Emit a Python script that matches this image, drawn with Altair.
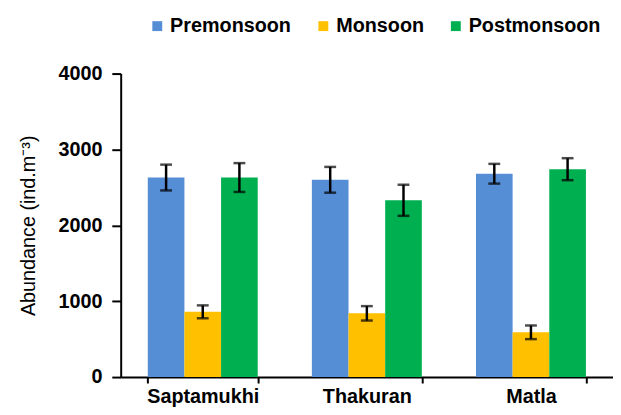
import altair as alt
import pandas as pd

sites = ["Saptamukhi", "Thakuran", "Matla"]
seasons = ["Premonsoon", "Monsoon", "Postmonsoon"]
colors = ["#558ED5", "#FFC000", "#00B050"]

premonsoon = [2630, 2600, 2680]
monsoon = [860, 840, 590]
postmonsoon = [2630, 2330, 2740]

premonsoon_err = [170, 170, 130]
monsoon_err = [85, 95, 90]
postmonsoon_err = [190, 205, 145]

rows = []
for means, errs, season in [
    (premonsoon, premonsoon_err, "Premonsoon"),
    (monsoon, monsoon_err, "Monsoon"),
    (postmonsoon, postmonsoon_err, "Postmonsoon"),
]:
    for site, m, e in zip(sites, means, errs):
        rows.append({"site": site, "season": season, "mean": m, "lo": m - e, "hi": m + e})
df = pd.DataFrame(rows)

ytitle = "Abundance (ind.m⁻³)"
yscale = alt.Scale(domain=[0, 4000], nice=False)

base = alt.Chart(df).encode(
    x=alt.X(
        "site:N",
        sort=sites,
        title=None,
        scale=alt.Scale(paddingInner=0.33, paddingOuter=0.165),
        axis=alt.Axis(
            labelAngle=0,
            labelPadding=4,
            tickSize=6,
            tickBand="extent",
        ),
    ),
    xOffset=alt.XOffset("season:N", sort=seasons, scale=alt.Scale(paddingInner=0, paddingOuter=0)),
)

yaxis = alt.Axis(
    values=[0, 1000, 2000, 3000, 4000],
    format="d",
    grid=False,
    labelPadding=10,
    tickSize=9,
    titlePadding=20,
)

bars = base.mark_bar().encode(
    y=alt.Y("mean:Q", title=ytitle, scale=yscale, axis=yaxis),
    color=alt.Color(
        "season:N",
        sort=seasons,
        scale=alt.Scale(domain=seasons, range=colors),
        legend=alt.Legend(
            title=None,
            orient="none",
            legendX=27,
            legendY=-58,
            direction="horizontal",
            symbolType="square",
            symbolSize=100,
            symbolStrokeWidth=0,
            labelFontSize=20,
            labelFontWeight="bold",
            labelColor="black",
            labelOffset=3,
            columnPadding=22,
        ),
    ),
)

rules = base.mark_rule(color="black", strokeWidth=2.5).encode(
    y=alt.Y("lo:Q", title=ytitle, scale=yscale, axis=yaxis),
    y2="hi:Q",
)
cap_top = base.mark_tick(color="black", thickness=2.5, size=12, orient="horizontal").encode(
    y=alt.Y("hi:Q", title=ytitle, scale=yscale, axis=yaxis),
)
cap_bot = base.mark_tick(color="black", thickness=2.5, size=12, orient="horizontal").encode(
    y=alt.Y("lo:Q", title=ytitle, scale=yscale, axis=yaxis),
)

chart = (
    alt.layer(bars, rules, cap_top, cap_bot)
    .properties(
        width=498,
        height=307,
        autosize="none",
        padding={"left": 114, "top": 64, "right": 0, "bottom": 34},
    )
    .configure(font="Liberation Sans")
    .configure_view(stroke=None)
    .configure_axis(
        labelFontSize=20,
        labelFontWeight="bold",
        labelColor="black",
        domainColor="black",
        domainWidth=2,
        tickColor="black",
        tickWidth=2,
        titleFontSize=20,
        titleFontWeight="normal",
        titleColor="black",
    )
)

chart.save("out.html", embed_options={"renderer": "svg", "actions": False})
